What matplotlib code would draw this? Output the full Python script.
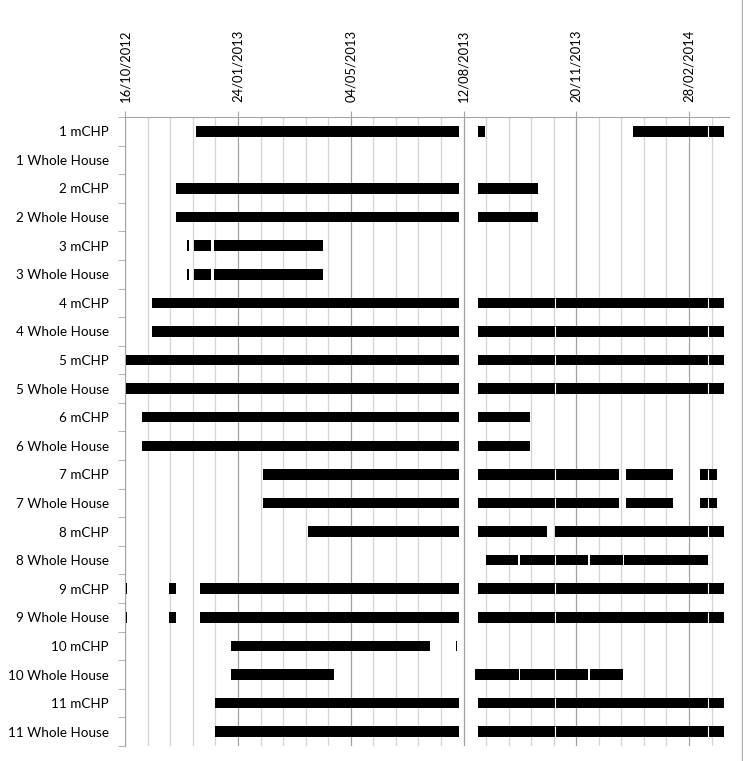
import numpy as np
from matplotlib import pyplot as plt
from matplotlib.ticker import FixedLocator, MultipleLocator

# days counted from 16/10/2012
categories = ['1 mCHP', '1 Whole House', '2 mCHP', '2 Whole House',
              '3 mCHP', '3 Whole House', '4 mCHP', '4 Whole House',
              '5 mCHP', '5 Whole House', '6 mCHP', '6 Whole House',
              '7 mCHP', '7 Whole House', '8 mCHP', '8 Whole House',
              '9 mCHP', '9 Whole House', '10 mCHP', '10 Whole House',
              '11 mCHP', '11 Whole House']

seg_1_mchp = [(63, 296), (313, 319), (450, 517), (517, 531.5)]
seg_1_wh = []
seg_2_mchp = [(45, 296), (313, 366)]
seg_2_wh = [(45, 296), (313, 366)]
seg_3_mchp = [(55, 56.8), (61, 76), (79, 175)]
seg_3_wh = [(55, 56.8), (61, 76), (79, 175)]
seg_4_mchp = [(24, 296), (313, 381), (381, 517), (517, 531.5)]
seg_4_wh = [(24, 296), (313, 381), (381, 517), (517, 531.5)]
seg_5_mchp = [(0.5, 296), (313, 381), (381, 517), (517, 531.5)]
seg_5_wh = [(0.5, 296), (313, 381), (381, 517), (517, 531.5)]
seg_6_mchp = [(15, 296), (313, 359)]
seg_6_wh = [(15, 296), (313, 359)]
seg_7_mchp = [(122, 296), (313, 381), (381, 437.5), (444, 486), (510, 517), (517, 525)]
seg_7_wh = [(122, 296), (313, 381), (381, 437.5), (444, 486), (510, 517), (517, 525)]
seg_8_mchp = [(162, 296), (313, 374), (381, 517), (517, 531.5)]
seg_8_wh = [(320, 348), (350.5, 381), (381, 410), (412, 441.5), (442.5, 516.5)]
seg_9_mchp = [(0.5, 1.4), (39, 45), (66, 296), (313, 381), (381, 517), (517, 531.5)]
seg_9_wh = [(0.5, 1.4), (39, 45), (66, 296), (313, 381), (381, 517), (517, 531.5)]
seg_10_mchp = [(94, 270), (293.2, 294.1)]
seg_10_wh = [(94, 185), (310, 349), (350.5, 381), (381, 410), (412, 441.5)]
seg_11_mchp = [(80, 296), (313, 381), (381, 517), (517, 531.5)]
seg_11_wh = [(80, 296), (313, 381), (381, 517), (517, 531.5)]

segments = [seg_1_mchp, seg_1_wh, seg_2_mchp, seg_2_wh, seg_3_mchp, seg_3_wh,
            seg_4_mchp, seg_4_wh, seg_5_mchp, seg_5_wh, seg_6_mchp, seg_6_wh,
            seg_7_mchp, seg_7_wh, seg_8_mchp, seg_8_wh, seg_9_mchp, seg_9_wh,
            seg_10_mchp, seg_10_wh, seg_11_mchp, seg_11_wh]

tick_days = [0, 100, 200, 300, 400, 500]
tick_labels = ['16/10/2012', '24/01/2013', '04/05/2013',
               '12/08/2013', '20/11/2013', '28/02/2014']

plt.rcParams['font.family'] = ['Lato', 'DejaVu Sans']

W, H = 743, 761
fig = plt.figure(figsize=(W / 100, H / 100), dpi=100)
ax = fig.add_axes([125.3 / W, 15 / H, (729 - 125.3) / W, (644 - 15) / H])

bar_h = 0.37
for i, segs in enumerate(segments):
    for (a, b) in segs:
        ax.barh(i, b - a, left=a, height=bar_h, color='black', linewidth=0, zorder=3)
    # thin white split where two pieces touch
    for k in range(1, len(segs)):
        if segs[k][0] == segs[k - 1][1]:
            ax.plot([segs[k][0]] * 2, [i - bar_h / 2, i + bar_h / 2],
                    color='white', lw=0.8, zorder=4, solid_capstyle='butt')

ax.set_xlim(0, 535.5)
ax.set_ylim(len(categories) - 0.5, -0.5)

# x axis on top
ax.xaxis.tick_top()
ax.set_xticks(tick_days)
ax.set_xticklabels(tick_labels, rotation=90, fontsize=9.4)
ax.xaxis.set_minor_locator(MultipleLocator(20))
ax.tick_params(axis='x', which='major', length=4, color='#a6a6a6', pad=7)
ax.tick_params(axis='x', which='minor', length=0)
ax.grid(True, axis='x', which='major', color='#a0a0a0', lw=0.9, zorder=1)
ax.grid(True, axis='x', which='minor', color='#d4d4d4', lw=0.9, zorder=1)

ax.set_yticks(np.arange(len(categories)))
ax.set_yticklabels(categories, fontsize=9.7)
ax.yaxis.set_minor_locator(FixedLocator(np.arange(len(categories) + 1) - 0.5))
ax.tick_params(axis='y', which='major', length=0, pad=12)
ax.tick_params(axis='y', which='minor', length=5, color='#a6a6a6')

for s in ['right', 'bottom']:
    ax.spines[s].set_visible(False)
ax.spines['top'].set_color('#a6a6a6')
ax.spines['left'].set_color('#a6a6a6')

# chart border on the right
fig.add_artist(plt.Line2D([741.5 / W] * 2, [0, 1], color='#b0b0b0', lw=1))

fig.savefig('out.png', dpi=100)
